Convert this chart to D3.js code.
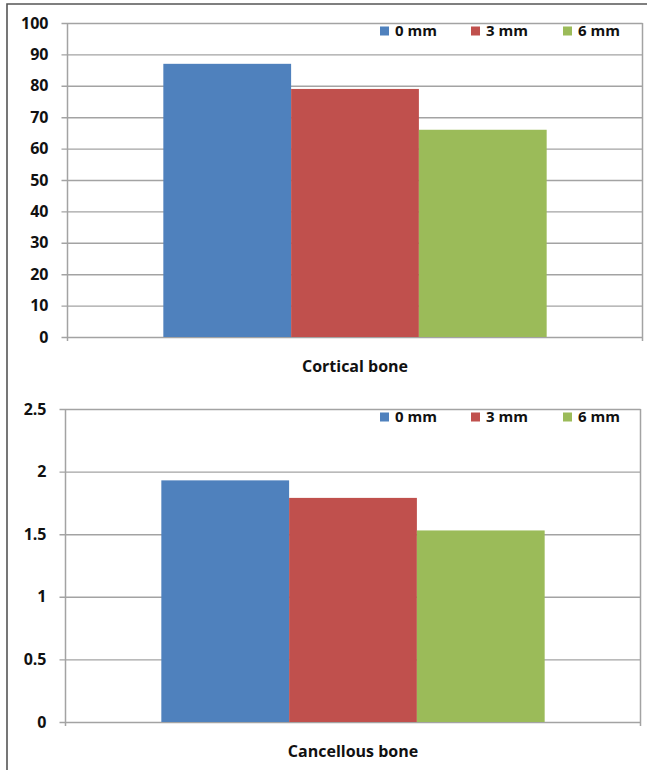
<!DOCTYPE html>
<html>
<head>
<meta charset="utf-8">
<script src="https://cdn.jsdelivr.net/npm/d3@7"></script>
<style>
  html, body { margin: 0; padding: 0; background: #fff; }
  svg { display: block; }
  text { font-family: "Open Sans", Lato, "DejaVu Sans", sans-serif; font-weight: bold; fill: #111; }
</style>
</head>
<body>
<svg id="fig" width="647" height="770"></svg>
<script>
// Series (distance from the defect) and colours
const series = ["0 mm", "3 mm", "6 mm"];
const seriesColors = ["#4f81bd", "#c0504d", "#9bbb59"];

// Cortical bone panel
const corticalCategory = ["Cortical bone"];
const corticalValues = [87, 79, 66];
const corticalTicks = [0, 10, 20, 30, 40, 50, 60, 70, 80, 90, 100];

// Cancellous bone panel
const cancellousCategory = ["Cancellous bone"];
const cancellousValues = [1.93, 1.79, 1.53];
const cancellousTicks = [0, 0.5, 1, 1.5, 2, 2.5];
const cancellousTickLabels = ["0", "0.5", "1", "1.5", "2", "2.5"];

const svg = d3.select("#fig");
const gridColor = "#a3a3a3";
const fontFamily = "'Open Sans', Lato, sans-serif";

// Outer frame (left and top edges)
svg.append("path")
  .attr("d", "M7,770 L7,4 L647,4")
  .attr("fill", "none")
  .attr("stroke", "#555")
  .attr("stroke-width", 1.6);

function drawPanel(opts) {
  const { x0, x1, yTop, yBottom, category, values, ticks, tickLabels, legendY, labelPad } = opts;
  const g = svg.append("g");
  const width = x1 - x0;

  const y = d3.scaleLinear()
    .domain([ticks[0], ticks[ticks.length - 1]])
    .range([yBottom, yTop]);

  // one category group, bars fill 3 / 4.5 of the plot width (gap 150%)
  const xCat = d3.scaleBand().domain(category).range([x0, x1]).paddingInner(0).paddingOuter(0.25);
  const xSer = d3.scaleBand().domain(series).range([0, xCat.bandwidth()]).padding(0);

  // horizontal gridlines with outside ticks and value labels
  const yAxis = d3.axisLeft(y)
    .tickValues(ticks)
    .tickSize(width + 6)
    .tickPadding(13)
    .tickFormat((d, i) => tickLabels ? tickLabels[i] : d3.format("d")(d));
  const ya = g.append("g").attr("transform", `translate(${x1},0)`).call(yAxis);
  ya.select(".domain").remove();
  ya.selectAll(".tick line").attr("stroke", gridColor).attr("stroke-width", 1.4);
  ya.selectAll(".tick text")
    .style("font-size", "16px")
    .style("font-weight", "bold")
    .style("font-family", fontFamily)
    .attr("fill", "#111");

  // bars
  g.append("g").selectAll("rect")
    .data(values)
    .join("rect")
    .attr("x", (d, i) => xCat(category[0]) + xSer(series[i]))
    .attr("width", xSer.bandwidth())
    .attr("y", d => y(d))
    .attr("height", d => y(0) - y(d))
    .attr("fill", (d, i) => seriesColors[i]);

  // vertical edges of the plot area, with the category-axis end ticks
  const edge = d3.scaleLinear().domain([0, 1]).range([x0, x1]);
  g.append("g").selectAll("line")
    .data([0, 1])
    .join("line")
    .attr("x1", d => edge(d)).attr("x2", d => edge(d))
    .attr("y1", yTop).attr("y2", yBottom + 4)
    .attr("stroke", gridColor)
    .attr("stroke-width", 1.5);

  // category label
  const xa = g.append("g").attr("transform", `translate(0,${yBottom})`)
    .call(d3.axisBottom(xCat).tickSize(0).tickPadding(labelPad));
  xa.select(".domain").remove();
  xa.selectAll(".tick text")
    .style("font-size", "16px")
    .style("font-weight", "bold")
    .style("font-family", fontFamily)
    .attr("fill", "#111");

  // legend
  const legendX = [380, 471, 563];
  const lg = g.append("g").selectAll("g")
    .data(series)
    .join("g")
    .attr("transform", (d, i) => `translate(${legendX[i]},${legendY})`);
  lg.append("rect")
    .attr("x", 0).attr("y", -4.5)
    .attr("width", 9).attr("height", 9)
    .attr("fill", (d, i) => seriesColors[i]);
  lg.append("text")
    .attr("x", 15).attr("y", 0)
    .attr("dy", "0.35em")
    .style("font-size", "15px")
    .text(d => d);
}

drawPanel({
  x0: 67.5, x1: 642.5, yTop: 23, yBottom: 337,
  category: corticalCategory, values: corticalValues,
  ticks: corticalTicks, tickLabels: null,
  legendY: 31, labelPad: 24
});

drawPanel({
  x0: 65.5, x1: 640.5, yTop: 409, yBottom: 722,
  category: cancellousCategory, values: cancellousValues,
  ticks: cancellousTicks, tickLabels: cancellousTickLabels,
  legendY: 417, labelPad: 24
});
</script>
</body>
</html>
